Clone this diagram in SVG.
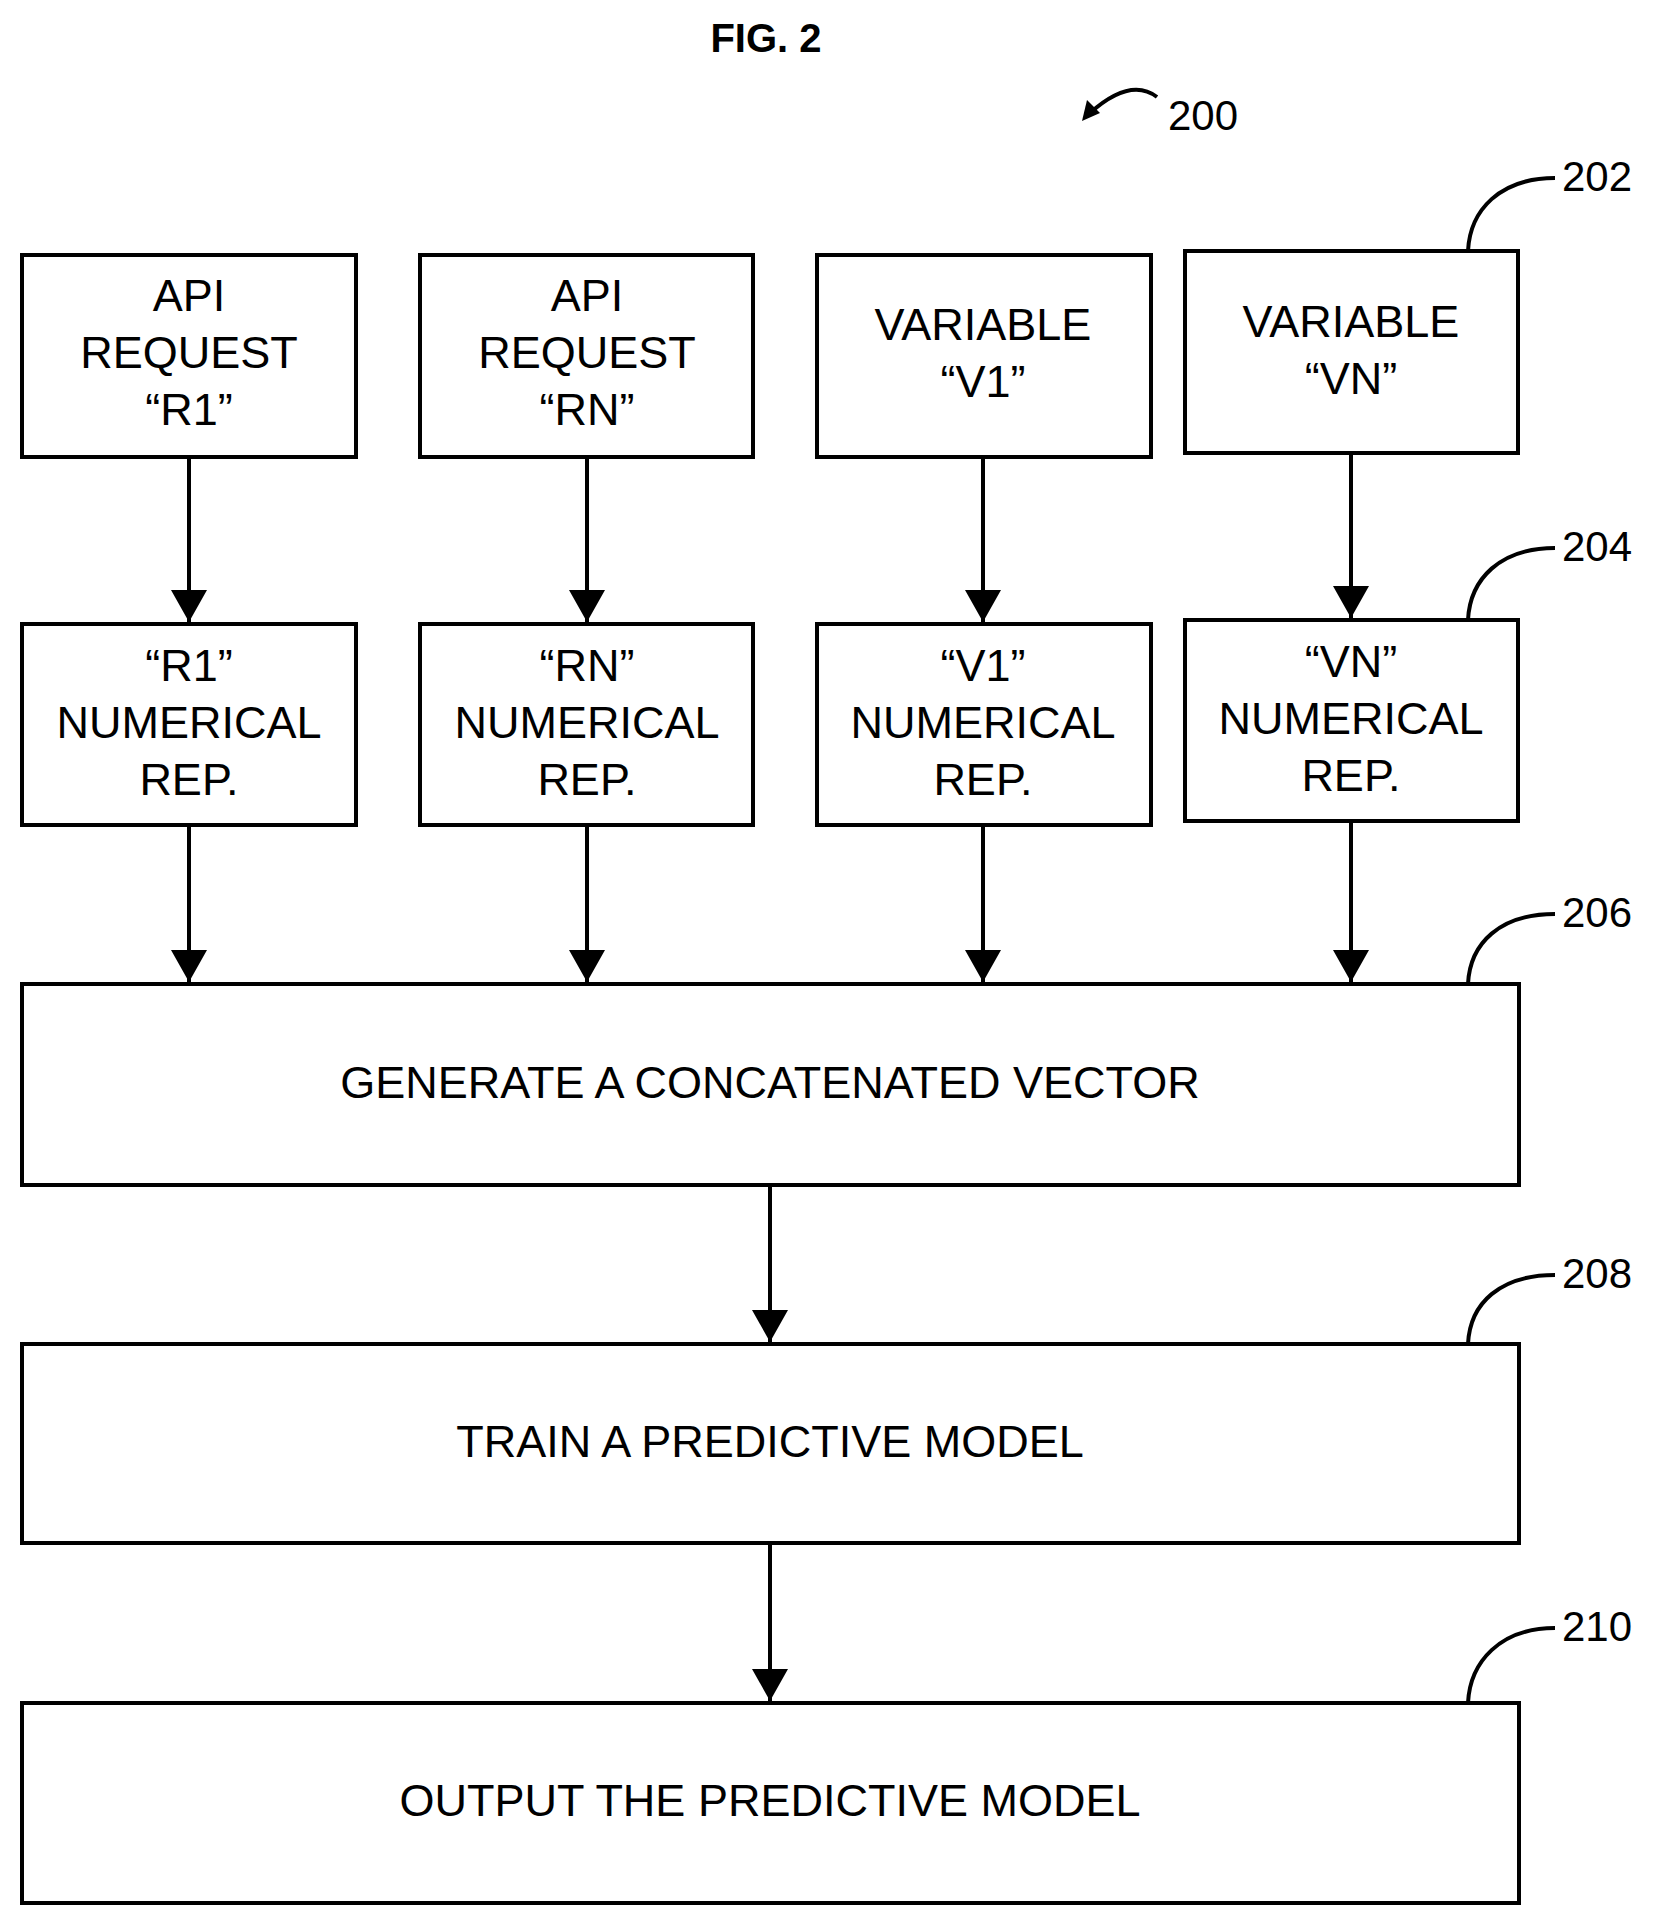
<svg xmlns="http://www.w3.org/2000/svg" width="1664" height="1931" viewBox="0 0 1664 1931">
<style>
.b{fill:#fff;stroke:#000;stroke-width:4}
.t{font-family:"Liberation Sans",Arial,sans-serif;font-size:45px;text-anchor:middle;fill:#000}
.n{font-family:"Liberation Sans",Arial,sans-serif;font-size:42px;fill:#000}
.c{stroke:#000;stroke-width:4;fill:none}
.l{stroke:#000;stroke-width:4;fill:none}
</style>
<defs><marker id="a" markerWidth="10" markerHeight="10" refX="9" refY="5" orient="auto" markerUnits="userSpaceOnUse" viewBox="0 0 10 10"><path d="M0,0 L10,5 L0,10 z"/></marker>
<marker id="ah" markerWidth="32" markerHeight="36" refX="32" refY="18" orient="auto" markerUnits="userSpaceOnUse" viewBox="0 0 32 36"><path d="M0,0 L32,18 L0,36 z"/></marker></defs>
<text x="766" y="52" font-family="Liberation Sans,Arial,sans-serif" font-size="40" font-weight="bold" text-anchor="middle">FIG. 2</text>
<g id="ref200"><path class="l" d="M1157,97 C1140,84 1118,88 1090,113"/><path d="M1082,121 L1087,100 L1100,113 z"/><text class="n" x="1168" y="130">200</text></g>
<g id="n_r1"><rect class="b" x="22" y="255" width="334" height="202"/><text class="t" x="189" y="311">API</text><text class="t" x="189" y="368">REQUEST</text><text class="t" x="189" y="425">“R1”</text></g>
<g id="n_rn"><rect class="b" x="420" y="255" width="333" height="202"/><text class="t" x="587" y="311">API</text><text class="t" x="587" y="368">REQUEST</text><text class="t" x="587" y="425">“RN”</text></g>
<g id="n_v1"><rect class="b" x="817" y="255" width="334" height="202"/><text class="t" x="983" y="340">VARIABLE</text><text class="t" x="983" y="397">“V1”</text></g>
<g id="n_vn"><rect class="b" x="1185" y="251" width="333" height="202"/><text class="t" x="1351" y="337">VARIABLE</text><text class="t" x="1351" y="394">“VN”</text><path class="l" d="M1468,251 C1470,210 1500,178 1555,178"/><text class="n" x="1562" y="191">202</text></g>
<g id="n_r1rep"><rect class="b" x="22" y="624" width="334" height="201"/><text class="t" x="189" y="681">“R1”</text><text class="t" x="189" y="738">NUMERICAL</text><text class="t" x="189" y="795">REP.</text></g>
<g id="n_rnrep"><rect class="b" x="420" y="624" width="333" height="201"/><text class="t" x="587" y="681">“RN”</text><text class="t" x="587" y="738">NUMERICAL</text><text class="t" x="587" y="795">REP.</text></g>
<g id="n_v1rep"><rect class="b" x="817" y="624" width="334" height="201"/><text class="t" x="983" y="681">“V1”</text><text class="t" x="983" y="738">NUMERICAL</text><text class="t" x="983" y="795">REP.</text></g>
<g id="n_vnrep"><rect class="b" x="1185" y="620" width="333" height="201"/><text class="t" x="1351" y="677">“VN”</text><text class="t" x="1351" y="734">NUMERICAL</text><text class="t" x="1351" y="791">REP.</text><path class="l" d="M1468,620 C1470,579 1500,548 1555,548"/><text class="n" x="1562" y="561">204</text></g>
<g id="n206"><rect class="b" x="22" y="984" width="1497" height="201"/><text class="t" x="770" y="1098">GENERATE A CONCATENATED VECTOR</text><path class="l" d="M1468,984 C1470,943 1500,914 1555,914"/><text class="n" x="1562" y="927">206</text></g>
<g id="n208"><rect class="b" x="22" y="1344" width="1497" height="199"/><text class="t" x="770" y="1457">TRAIN A PREDICTIVE MODEL</text><path class="l" d="M1468,1344 C1470,1303 1500,1275 1555,1275"/><text class="n" x="1562" y="1288">208</text></g>
<g id="n210"><rect class="b" x="22" y="1703" width="1497" height="200"/><text class="t" x="770" y="1816">OUTPUT THE PREDICTIVE MODEL</text><path class="l" d="M1468,1703 C1470,1662 1500,1628 1555,1628"/><text class="n" x="1562" y="1641">210</text></g>
<g id="connectors">
<path class="c" marker-end="url(#ah)" d="M189,457 V622"/>
<path class="c" marker-end="url(#ah)" d="M587,457 V622"/>
<path class="c" marker-end="url(#ah)" d="M983,457 V622"/>
<path class="c" marker-end="url(#ah)" d="M1351,453 V618"/>
<path class="c" marker-end="url(#ah)" d="M189,825 V982"/>
<path class="c" marker-end="url(#ah)" d="M587,825 V982"/>
<path class="c" marker-end="url(#ah)" d="M983,825 V982"/>
<path class="c" marker-end="url(#ah)" d="M1351,821 V982"/>
<path class="c" marker-end="url(#ah)" d="M770,1185 V1342"/>
<path class="c" marker-end="url(#ah)" d="M770,1543 V1701"/>
</g>
</svg>
